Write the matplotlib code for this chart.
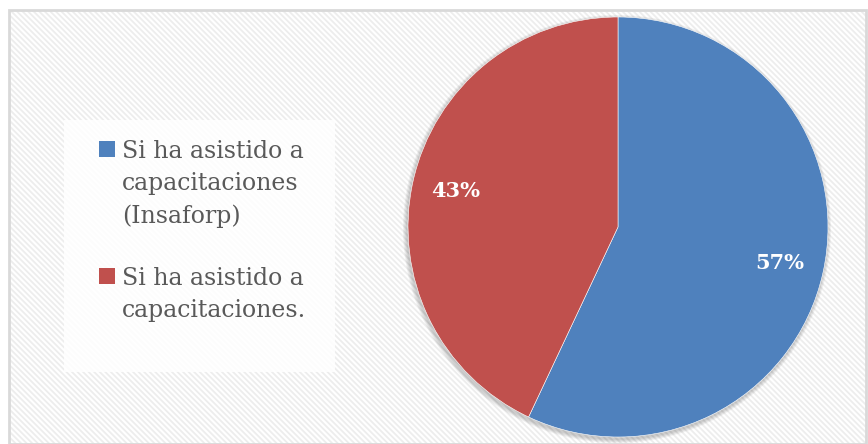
import matplotlib.pyplot as plt
from matplotlib.patches import Rectangle, Circle

# data
labels = ['Si ha asistido a\ncapacitaciones\n(Insaforp)',
          'Si ha asistido a\ncapacitaciones.']
values = [57, 43]
colors = ['#4F81BD', '#C0504D']

plt.rcParams['font.family'] = ['DejaVu Serif']
plt.rcParams['hatch.color'] = '#ededed'
plt.rcParams['hatch.linewidth'] = 1.3

fig = plt.figure(figsize=(8.68, 4.44), dpi=100)
ax = fig.add_axes([0, 0, 1, 1])

# background with diagonal stripes and grey frame
ax.add_patch(Rectangle((9, 0), 857, 434, facecolor='white', hatch='\\' * 6,
                       edgecolor='#ededed', linewidth=0, zorder=0))
ax.add_patch(Rectangle((9, 0), 857, 434, facecolor='none',
                       edgecolor='#d9d9d9', linewidth=2, zorder=1))

cx, cy, r = 618, 217, 210

# soft shadow behind the pie
for i in range(4):
    ax.add_patch(Circle((cx - 1, cy - 2), r + 4 - i, facecolor='black',
                        edgecolor='none', alpha=0.05, zorder=2))

wedges, texts, autotexts = ax.pie(values, colors=colors, startangle=90,
                                  counterclock=False, center=(cx, cy), radius=r,
                                  autopct='%1.0f%%', pctdistance=0.79,
                                  wedgeprops=dict(edgecolor='white', linewidth=0.4),
                                  textprops=dict(color='white', fontsize=15,
                                                 fontweight='bold'),
                                  frame=True)
for w in wedges:
    w.set_zorder(3)
for t in autotexts:
    t.set_zorder(4)
ax.set_xlim(0, 868)
ax.set_ylim(0, 444)
ax.set_aspect('equal')
ax.axis('off')

# legend box
ax.add_patch(Rectangle((64, 72), 271, 252, facecolor='white', alpha=0.85,
                       edgecolor='none', zorder=2))
entry_top = [444 - 141, 444 - 268]
for lab, col, ytop in zip(labels, colors, entry_top):
    ax.add_patch(Rectangle((99, ytop - 16), 16, 16, facecolor=col,
                           edgecolor='none', zorder=3))
    ax.text(122, ytop + 1, lab, fontsize=17, color='#595959', va='top',
            ha='left', linespacing=1.5, zorder=3)

fig.savefig('out.png', dpi=100)
